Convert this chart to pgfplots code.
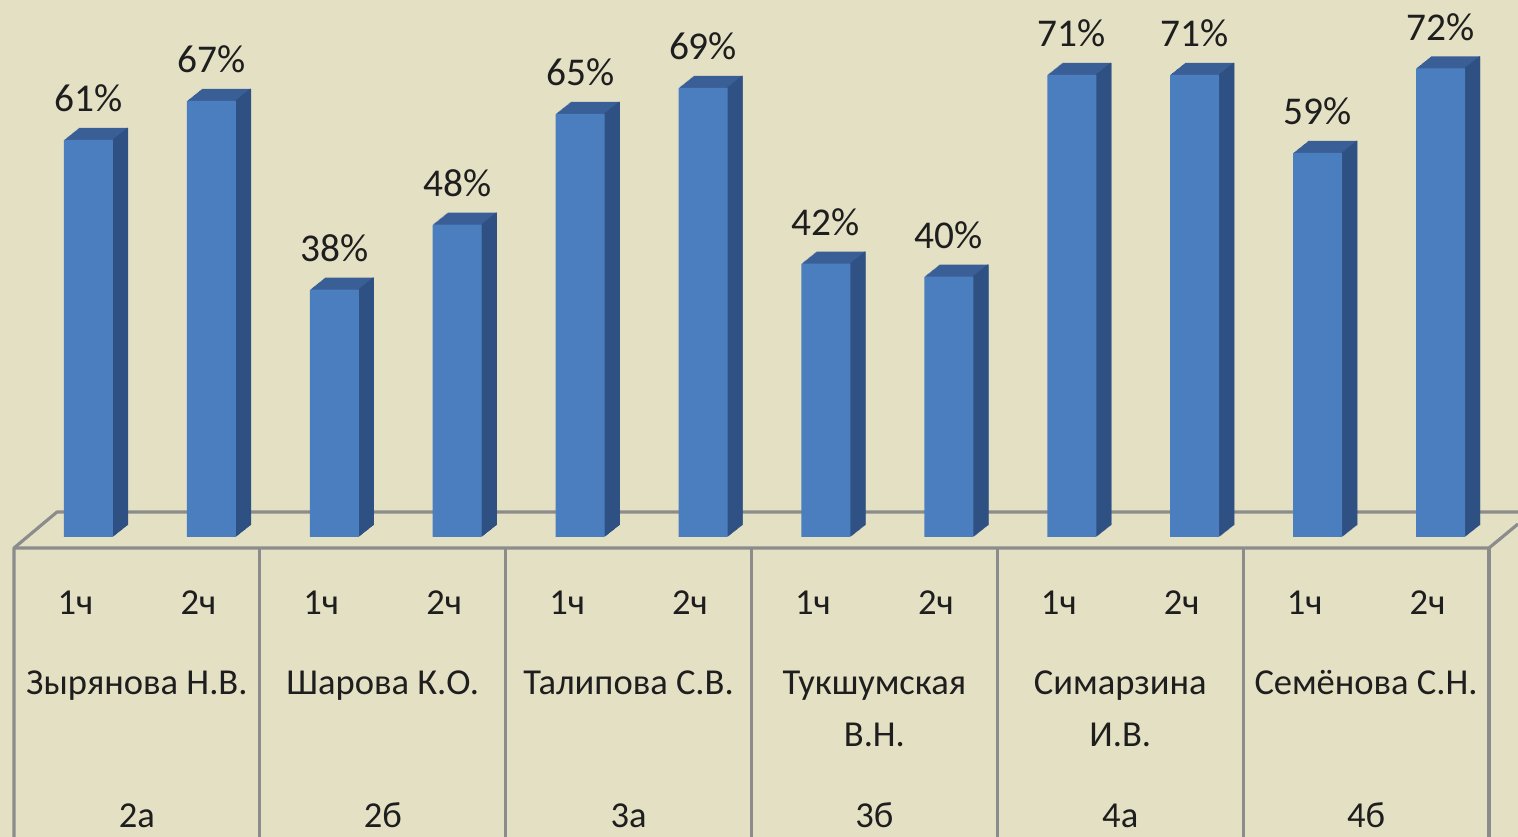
\documentclass[border=0pt]{standalone}
\usepackage{fontspec}
\setmainfont{Carlito}
\usepackage{pgfplots}
\pgfplotsset{compat=1.18}
\usepackage{pgfplotstable}
\definecolor{bg}{HTML}{E4E0C4}
\definecolor{front}{HTML}{4A7EBF}
\definecolor{topc}{HTML}{3A5F96}
\definecolor{side}{HTML}{2F5082}
\definecolor{gridc}{HTML}{8C8C8C}
\definecolor{txt}{HTML}{1E1E1E}

\pgfplotstableread{
x v
0.5 61
1.5 67
2.5 38
3.5 48
4.5 65
5.5 69
6.5 42
7.5 40
8.5 71
9.5 71
10.5 59
11.5 72
}\data

\begin{document}
\begin{tikzpicture}[font=\fontsize{10.4}{14.8}\selectfont]
\path[use as bounding box, fill=bg] (-0.14,-3.00) rectangle (15.04,5.37);
% floor
\draw[gridc, line width=0.9pt, line join=round] (0,-3.00) -- (0,-0.11) -- (0.43,0.25) -- (15.04,0.25);
\draw[gridc, line width=0.9pt, line join=round] (0,-0.11) -- (14.75,-0.11) -- (15.04,0.13);
\foreach \i in {1,...,6} {
  \draw[gridc, line width=0.9pt] ({\i*14.75/6},-0.11) -- ({\i*14.75/6},-3.00);
}
\begin{axis}[
  at={(0,0)}, anchor=south west,
  scale only axis, width=14.75cm, height=5.208cm,
  xmin=0, xmax=12, ymin=0, ymax=80,
  clip=false,
  axis line style={draw=none},
  xtick=\empty, ytick=\empty,
]
% depth (top face colour)
\pgfplotsinvokeforeach{1,...,15}{
  \addplot[ybar, bar width=0.49cm, bar shift=0.13cm, fill=topc, draw=none,
    xshift=#1*0.01cm, yshift=#1*0.008cm] table[x=x,y=v]{\data};
}
% side face strips
\pgfplotsinvokeforeach{1,...,15}{
  \addplot[ybar, bar width=0.013cm, bar shift=0.37cm, fill=side, draw=none,
    xshift=#1*0.01cm, yshift=#1*0.008cm] table[x=x,y=v]{\data};
}
% front face
\addplot[ybar, bar width=0.49cm, bar shift=0.13cm, fill=front, draw=none,
  nodes near coords={\pgfmathprintnumber[assume math mode=true]{\pgfplotspointmeta}\%},
  every node near coord/.append style={anchor=base, xshift=0.13cm, yshift=0.28cm,
    text=txt, inner sep=0pt, font=\fontsize{11.2}{13}\selectfont}]
  table[x=x,y=v]{\data};
\end{axis}
% category labels
\foreach \i in {0,...,5} {
  \node[anchor=base, text=txt] at ({(2*\i+0.5)*14.75/12},-0.78) {1ч};
  \node[anchor=base, text=txt] at ({(2*\i+1.5)*14.75/12},-0.78) {2ч};
}
\node[anchor=base, text=txt] at ({1*14.75/12},-1.58) {Зырянова Н.В.};
\node[anchor=base, text=txt] at ({3*14.75/12},-1.58) {Шарова К.О.};
\node[anchor=base, text=txt] at ({5*14.75/12},-1.58) {Талипова С.В.};
\node[anchor=base, text=txt] at ({7*14.75/12},-1.58) {Тукшумская};
\node[anchor=base, text=txt] at ({7*14.75/12},-2.10) {В.Н.};
\node[anchor=base, text=txt] at ({9*14.75/12},-1.58) {Симарзина};
\node[anchor=base, text=txt] at ({9*14.75/12},-2.10) {И.В.};
\node[anchor=base, text=txt] at ({11*14.75/12},-1.58) {Семёнова С.Н.};
\node[anchor=base, text=txt] at ({1*14.75/12},-2.90) {2а};
\node[anchor=base, text=txt] at ({3*14.75/12},-2.90) {2б};
\node[anchor=base, text=txt] at ({5*14.75/12},-2.90) {3а};
\node[anchor=base, text=txt] at ({7*14.75/12},-2.90) {3б};
\node[anchor=base, text=txt] at ({9*14.75/12},-2.90) {4а};
\node[anchor=base, text=txt] at ({11*14.75/12},-2.90) {4б};
\end{tikzpicture}
\end{document}
